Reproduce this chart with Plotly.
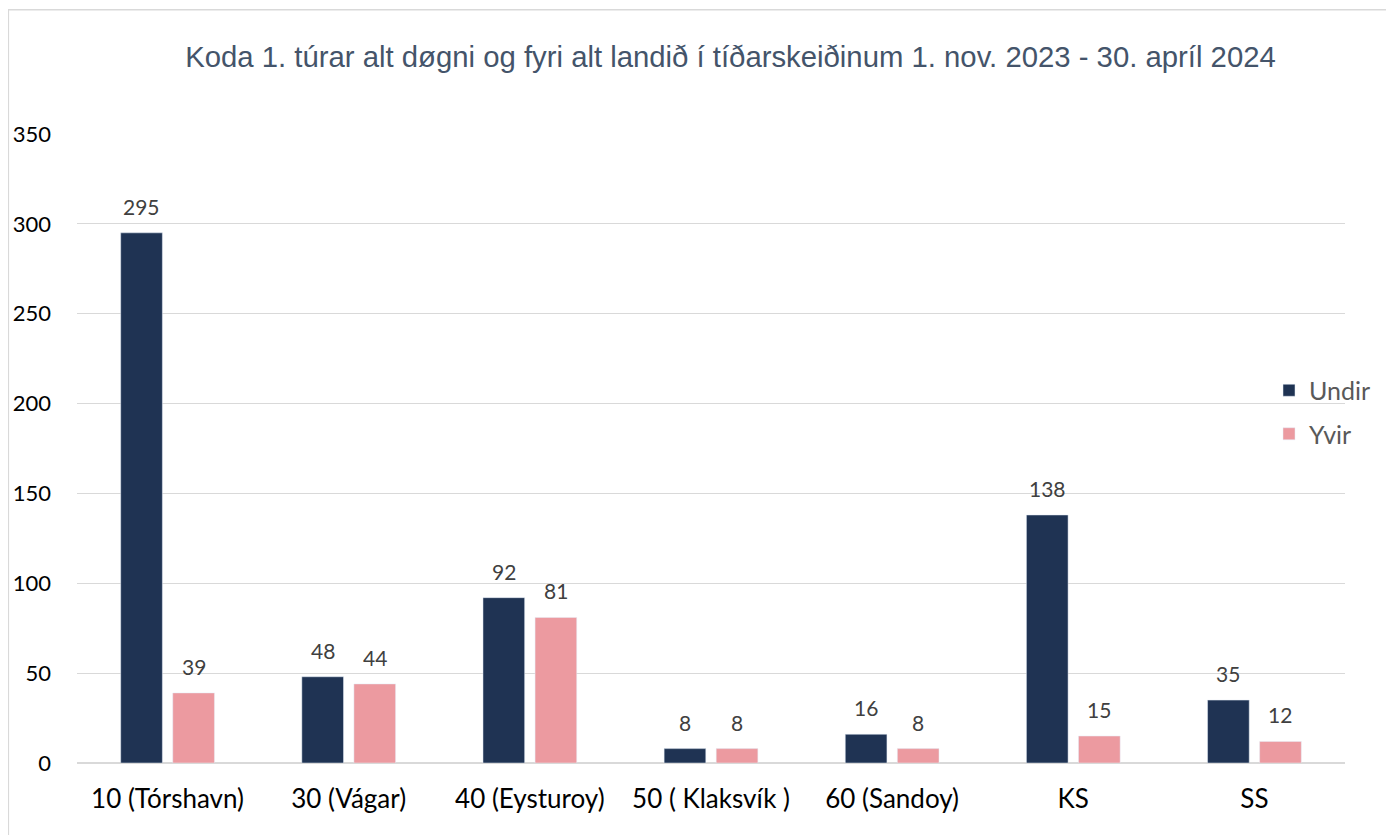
import plotly.graph_objects as go

categories = ["10 (Tórshavn)", "30 (Vágar)", "40 (Eysturoy)", "50 ( Klaksvík )", "60 (Sandoy)", "KS", "SS"]
undir = [295, 48, 92, 8, 16, 138, 35]
yvir = [39, 44, 81, 8, 8, 15, 12]
y_ticks = [0, 50, 100, 150, 200, 250, 300, 350]
title_text = "Koda 1. túrar alt døgni og fyri alt landið í tíðarskeiðinum 1. nov. 2023 - 30. apríl 2024"

# page body has an 8px margin, so the figure starts at (8, 8)
OFF = 8
W, H = 1394 - OFF, 835 - OFF
L, T = 77 - OFF, 134 - OFF
R = W - (1345 - OFF)
B = H - (763 - OFF)
pw, ph = W - L - R, H - T - B

fig = go.Figure()
fig.add_trace(go.Bar(name="Undir", x=categories, y=undir, marker_color="#1f3353",
                     legendgroup="a", hoverinfo="y"))
fig.add_trace(go.Bar(name="Yvir", x=categories, y=yvir, marker_color="#ec9aa0",
                     legendgroup="b", hoverinfo="y"))

anns = []
for vals, shift in ((undir, -26), (yvir, 26)):
    for c, v in zip(categories, vals):
        anns.append(dict(x=c, y=v, xref="x", yref="y", text=str(v), showarrow=False,
                         xshift=shift, yshift=12, yanchor="bottom",
                         font=dict(family="Lato", size=21, color="#404040")))

def px_x(p):
    return (p - OFF - L) / pw

def px_y(p):
    return (H - B - (p - OFF)) / ph

fig.update_layout(
    width=W, height=H,
    margin=dict(l=L, r=R, t=T, b=B, autoexpand=False),
    paper_bgcolor="white", plot_bgcolor="white",
    barmode="group", bargap=0.425, bargroupgap=0.2,
    title=dict(text=title_text, x=px_x(738), xanchor="center", y=1 - (57 - OFF) / H, yanchor="middle",
               font=dict(family="Liberation Sans", size=29.3, color="#44546a")),
    font=dict(family="Lato", color="#404040"),
    legend=dict(x=px_x(1269), xanchor="left", y=px_y(412), yanchor="middle",
                font=dict(family="Lato", size=25, color="#595959"),
                tracegroupgap=8, bgcolor="rgba(0,0,0,0)", itemwidth=30),
    annotations=anns,
    shapes=[dict(type="rect", xref="paper", yref="paper",
                 x0=px_x(8.3), x1=px_x(1410), y0=px_y(9.8), y1=px_y(850),
                 line=dict(color="#d9d9d9", width=1.6), fillcolor="rgba(0,0,0,0)", layer="below")],
    xaxis=dict(showgrid=False, showline=False, ticks="", zeroline=False,
               tickfont=dict(family="Lato", size=26, color="#000000"), ticklabelstandoff=18),
    yaxis=dict(range=[0, 350], tickvals=y_ticks, showgrid=True, gridcolor="#d9d9d9", gridwidth=1,
               zeroline=True, zerolinecolor="#d9d9d9", zerolinewidth=2, showline=False, ticks="",
               tickfont=dict(family="Lato", size=22, color="#000000"), ticklabelstandoff=25),
)

fig.write_html("out.html")
